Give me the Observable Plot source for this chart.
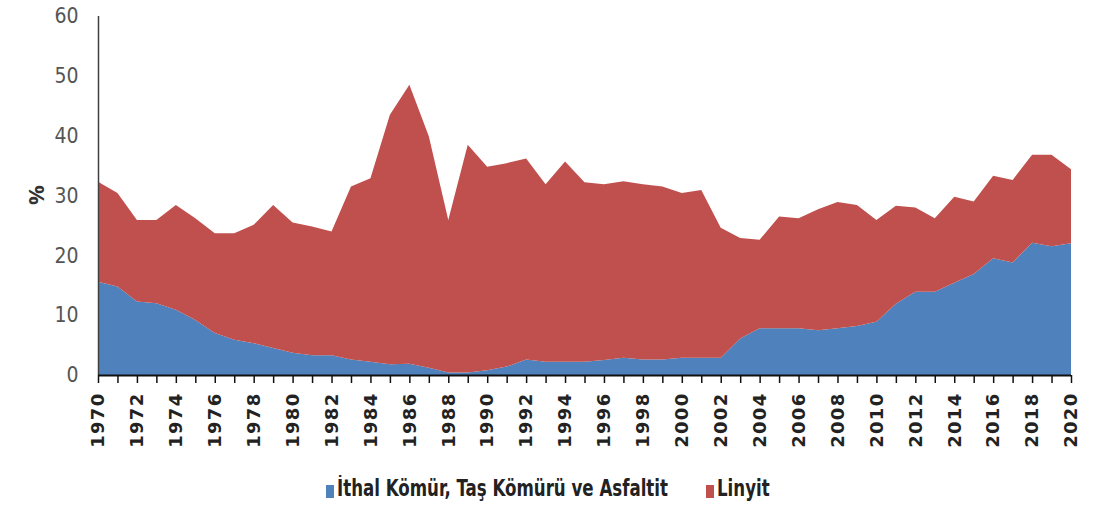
<!DOCTYPE html>
<html>
<head>
<meta charset="utf-8">
<script src="https://cdn.jsdelivr.net/npm/d3@7"></script>
<script src="https://cdn.jsdelivr.net/npm/@observablehq/plot@0.6"></script>
<style>
  html, body { margin: 0; padding: 0; background: #fff; }
  #chart { width: 1110px; }
  #chart g[aria-label="x-axis tick label"] text { letter-spacing: 1.3px; }
  .legend { display: flex; justify-content: flex-start; align-items: center; height: 46px;
    font-family: "DejaVu Sans Condensed", "Liberation Sans Narrow", sans-serif; font-weight: bold;
    font-size: 18.5px; color: #222; padding-left: 326px; box-sizing: border-box; }
  .legend .item { display: flex; align-items: center; }
  .legend .tx { display: inline-block; transform: scaleY(1.22); }
  .legend .sw { width: 8px; height: 13px; margin-right: 3px; margin-top: 6px; }
</style>
</head>
<body>
<div id="chart"></div>
<script>
const years = d3.range(1970, 2021);
const seriesNames = ["İthal Kömür, Taş Kömürü ve Asfaltit", "Linyit"];
const colors = ["#4f81bd", "#c0504d"];
const ithal = [15.6,14.8,12.3,12.0,10.9,9.2,7.0,5.9,5.3,4.5,3.7,3.3,3.3,2.6,2.2,1.8,1.9,1.2,0.4,0.4,
  0.8,1.4,2.6,2.2,2.2,2.2,2.5,2.9,2.6,2.6,2.9,2.9,2.9,6.1,7.8,7.8,7.8,7.5,7.8,8.2,
  8.9,11.9,13.9,13.9,15.4,16.9,19.5,18.8,22.1,21.5,22.0];
const linyit = [16.7,15.6,13.6,13.9,17.5,17.0,16.7,17.8,19.8,23.9,21.8,21.5,20.7,28.9,30.7,41.7,46.6,38.7,25.5,38.1,
  34.0,34.0,33.6,29.7,33.5,30.0,29.4,29.5,29.3,28.9,27.5,28.0,21.7,16.8,14.8,18.7,18.4,20.2,21.1,20.2,
  17.0,16.4,14.1,12.3,14.4,12.1,13.8,13.8,14.7,15.3,12.4];
const yTicks = [0, 10, 20, 30, 40, 50, 60];

const data = [];
years.forEach((yr, i) => {
  data.push({year: yr, series: seriesNames[0], value: ithal[i]});
  data.push({year: yr, series: seriesNames[1], value: linyit[i]});
});

const plot = Plot.plot({
  width: 1110,
  height: 465,
  marginLeft: 98,
  marginRight: 39,
  marginTop: 16,
  marginBottom: 90,
  style: {background: "#fff"},
  x: {domain: [1970, 2020], label: null},
  y: {domain: [0, 60], label: null},
  color: {domain: seriesNames, range: colors},
  marks: [
    Plot.areaY(data, {x: "year", y: "value", fill: "series", order: seriesNames}),
    Plot.ruleX([1970], {stroke: "#404040", strokeWidth: 1.5}),
    Plot.ruleY([0], {stroke: "#111", strokeWidth: 2}),
    Plot.axisY({ticks: yTicks, tickSize: 0, tickPadding: 20, label: null,
      fontSize: 21, fill: "#555", fontFamily: "'Liberation Sans Narrow', 'DejaVu Sans Condensed', sans-serif"}),
    Plot.axisX({ticks: years, tickSize: 8, tickPadding: 9, tickRotate: -90, label: null,
      tickFormat: d => d % 2 === 0 ? String(d) : "",
      stroke: "#111", strokeWidth: 1.5,
      fontSize: 18, fontWeight: "bold", fontFamily: "'DejaVu Sans', sans-serif", fill: "#222"}),
    Plot.text(["%"], {frameAnchor: "left", dx: -62, dy: -1, rotate: -90, fontSize: 22,
      fill: "#333", fontWeight: "bold", textAnchor: "middle"})
  ]
});
document.getElementById("chart").appendChild(plot);

const legend = document.createElement("div");
legend.className = "legend";
seriesNames.forEach((name, i) => {
  const item = document.createElement("div");
  item.className = "item";
  if (i > 0) item.style.marginLeft = "38px";
  const sw = document.createElement("span");
  sw.className = "sw";
  sw.style.background = colors[i];
  const tx = document.createElement("span");
  tx.className = "tx";
  tx.textContent = name;
  item.appendChild(sw);
  item.appendChild(tx);
  legend.appendChild(item);
});
document.body.appendChild(legend);
</script>
</body>
</html>
